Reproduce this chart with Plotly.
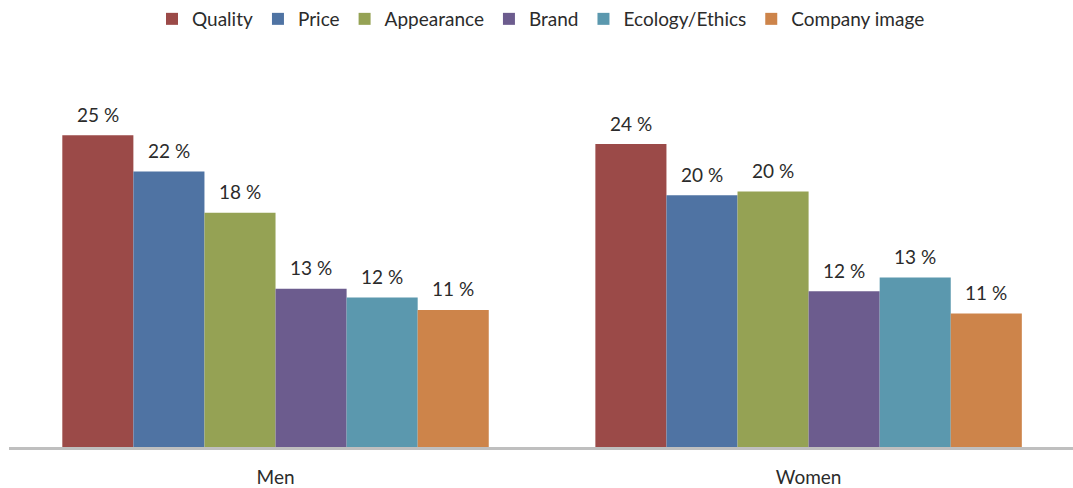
import plotly.graph_objects as go

groups = ["Men", "Women"]
series_names = ["Quality", "Price", "Appearance", "Brand", "Ecology/Ethics", "Company image"]
series_colors = ["#9B4A48", "#4F73A3", "#95A254", "#6C5C8E", "#5B98AE", "#CD844A"]

quality = [25.0, 24.3]
price = [22.1, 20.2]
appearance = [18.8, 20.5]
brand = [12.7, 12.5]
ecology = [12.0, 13.6]
company = [11.0, 10.7]

quality_labels = ["25 %", "24 %"]
price_labels = ["22 %", "20 %"]
appearance_labels = ["18 %", "20 %"]
brand_labels = ["13 %", "12 %"]
ecology_labels = ["12 %", "13 %"]
company_labels = ["11 %", "11 %"]

values = [quality, price, appearance, brand, ecology, company]
labels = [quality_labels, price_labels, appearance_labels, brand_labels,
          ecology_labels, company_labels]

FONT = "Lato"
TXT = "#2b2b2b"
bargap = 0.2

fig = go.Figure()
for name, col, vals in zip(series_names, series_colors, values):
    fig.add_trace(go.Bar(name=name, x=groups, y=vals, marker_color=col,
                         marker_line_width=0))

n = len(series_names)
w = (1 - bargap) / n
annotations = []
for i, (vals, labs) in enumerate(zip(values, labels)):
    off = -(1 - bargap) / 2 + (i + 0.5) * w
    for gi, (v, t) in enumerate(zip(vals, labs)):
        annotations.append(dict(x=gi + off, y=v, xref="x", yref="y", text=t,
                                showarrow=False, yshift=21, yanchor="middle",
                                font=dict(family=FONT, size=19, color=TXT)))

fig.update_layout(
    width=1073, height=488,
    margin=dict(l=9, r=0, t=83, b=37),
    paper_bgcolor="white", plot_bgcolor="white",
    barmode="group", bargap=bargap, bargroupgap=0,
    font=dict(family=FONT, size=19, color=TXT),
    showlegend=True,
    legend=dict(orientation="h", x=0.5, xanchor="center", y=1.0, yref="container",
                yanchor="top", font=dict(family=FONT, size=19, color=TXT),
                itemwidth=30, traceorder="normal"),
    annotations=annotations,
)
fig.update_xaxes(range=[-0.5, 1.496], showline=True, linecolor="#BFBFBF", linewidth=3,
                 ticks="outside", ticklen=11, tickcolor="rgba(0,0,0,0)",
                 showgrid=False, zeroline=False,
                 tickfont=dict(family=FONT, size=19, color=TXT))
fig.update_yaxes(visible=False, range=[0, 29.2], showgrid=False, zeroline=False)

fig.write_html("out.html")
